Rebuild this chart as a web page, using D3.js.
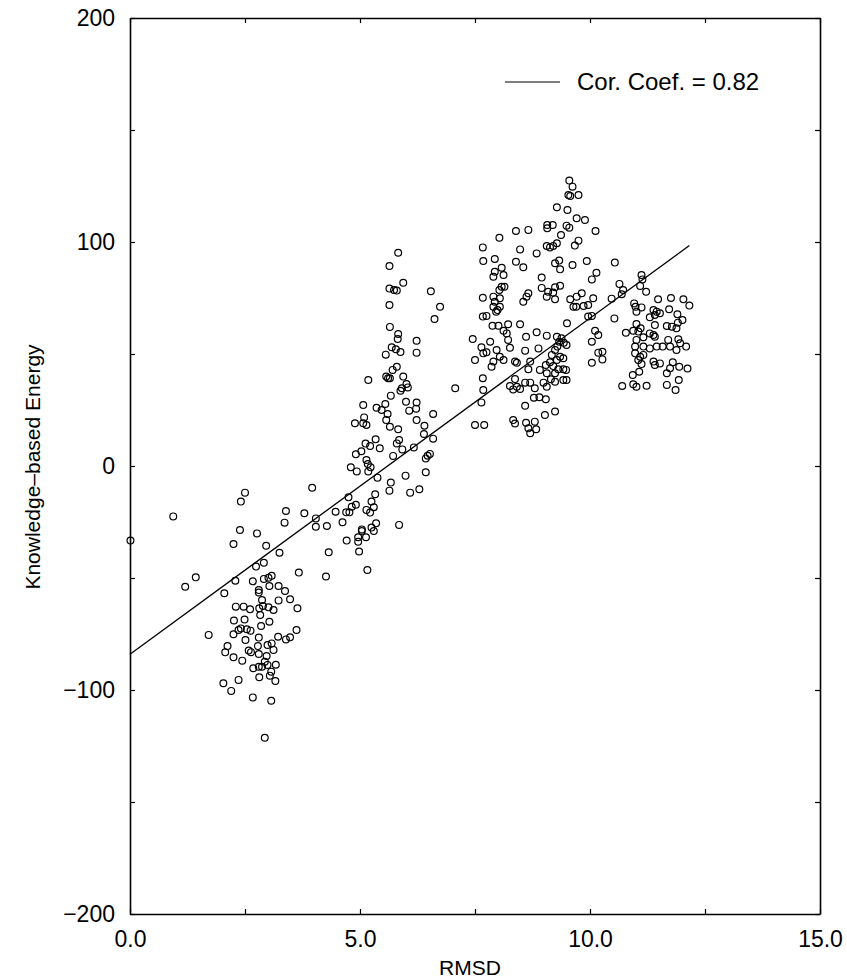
<!DOCTYPE html>
<html>
<head>
<meta charset="utf-8">
<script src="https://cdn.jsdelivr.net/npm/d3@7"></script>
<style>
  body { margin: 0; background: #fff; }
  text { font-family: "Liberation Sans", Arial, Helvetica, sans-serif; fill: #000; }
</style>
</head>
<body>
<svg id="chart" width="847" height="979"></svg>
<script>
// RMSD vs knowledge-based energy
const lowCluster = [
  [0.01,-33.3],[0.94,-22.5],[2.50,-11.9],
  [2.41,-15.9],[3.39,-20.1],[3.36,-25.3],[2.39,-28.6],[2.76,-30.1],[2.25,-34.8],[2.96,-35.6],[3.25,-38.7],
  [4.71,-33.3],[4.96,-31.8],[4.96,-33.8],[4.32,-38.5],[4.98,-38.2],[2.91,-43.2],[2.74,-44.9],[1.43,-49.7],
  [1.20,-53.9],[2.29,-51.2],[2.67,-51.5],[2.91,-50.4],[3.01,-49.9],[3.08,-49.0],[3.67,-47.6],[4.26,-49.3],
  [3.03,-53.6],[3.23,-53.6],[2.80,-55.4],[2.80,-56.5],[3.37,-55.8],[2.05,-56.8],[3.48,-59.5],[2.87,-59.8],
  [3.23,-60.0],[2.30,-62.8],[2.47,-62.8],[2.61,-64.0],[2.81,-63.5],[2.89,-62.5],[3.01,-63.1],[3.12,-64.3],
  [3.64,-63.5],[2.83,-66.5],[2.26,-69.0],[2.49,-68.5],[3.03,-69.5],[2.85,-71.4],[2.41,-72.5],[2.54,-72.9],
  [2.36,-73.2],[2.62,-73.5],[2.25,-75.1],[3.62,-73.2],[1.71,-75.4],[2.51,-77.7],[2.80,-76.6],[3.22,-76.2],
  [3.39,-77.4],[3.48,-76.5],[2.12,-80.4],[2.78,-80.4],[2.99,-79.9],[3.08,-79.2],[2.07,-83.2],[2.58,-82.4],
  [2.63,-83.1],[3.12,-82.1],[2.25,-85.4],[2.80,-83.9],[2.97,-84.8],[2.44,-86.9],[2.93,-87.4],[2.68,-90.3],
  [2.80,-89.6],[2.87,-89.6],[2.99,-88.8],[3.17,-88.7],[3.07,-91.8],[2.81,-94.3],[3.04,-93.6],[2.03,-97.0],
  [2.36,-95.5],[3.16,-96.0],[2.20,-100.4],[2.67,-103.3],[3.07,-104.8],[2.93,-121.3]
];

const midCluster = [
  [5.83,95.2],[5.64,89.3],[5.94,81.8],[5.64,79.2],[5.74,78.6],[5.80,78.3],[6.54,78.0],[5.64,71.9],[6.74,71.1],
  [6.62,65.6],[5.65,62.1],[5.83,58.9],[5.82,56.7],[6.23,55.9],[6.23,50.6],[5.69,53.0],[5.78,52.1],[5.88,50.9],
  [5.56,49.7],[5.80,44.3],[5.71,42.9],[5.57,39.9],[5.61,39.2],[5.65,39.2],[5.18,38.4],[5.94,39.9],[6.01,36.6],
  [5.91,34.7],[6.04,35.1],[5.88,33.6],[5.67,31.4],[5.07,27.2],[5.36,26.0],[5.47,25.0],[5.55,27.7],[6.00,28.7],
  [6.23,28.3],[6.22,25.6],[6.07,24.7],[5.60,23.2],[5.09,21.7],[6.59,23.2],[5.57,20.5],[5.65,17.5],[4.89,19.1],
  [5.07,19.1],[5.14,18.3],[6.23,20.5],[6.40,18.0],[5.83,16.4],[6.39,14.3],[6.59,12.2],[5.34,11.9],[5.85,11.6],
  [5.80,10.1],[5.12,10.0],[5.22,8.9],[5.43,7.9],[5.03,6.6],[4.91,5.2],[5.72,4.5],[5.92,7.4],[6.17,8.3],
  [6.52,5.4],[6.47,4.6],[6.43,3.4],[5.14,2.7],[5.17,0.9],[5.23,-0.6],[4.80,-0.6],[4.93,-2.4],[5.18,-2.4],
  [5.38,-5.2],[6.43,-2.8],[5.99,-4.3],[3.96,-9.7],[5.67,-7.4],[5.64,-11.0],[5.33,-12.6],[6.09,-11.9],
  [6.29,-10.4],[4.75,-14.0],[5.25,-15.9],[4.91,-17.3],[4.82,-18.2],[4.70,-20.7],[4.77,-20.7],[4.47,-20.4],
  [5.14,-19.6],[5.30,-18.4],[5.22,-20.8],[3.79,-21.1],[4.04,-23.4],[4.62,-25.1],[5.85,-26.3],[5.35,-25.6],
  [4.04,-27.1],[4.28,-26.8],[5.04,-28.3],[5.25,-27.5],[5.30,-29.0],[5.04,-29.0],[5.13,-31.8],[5.16,-46.4]
];

const highCluster = [
  [9.55,127.4],[9.62,124.7],[9.53,121.0],[9.57,120.5],[9.75,121.0],[9.28,115.5],[9.51,114.3],[9.71,110.6],
  [9.89,109.8],[9.07,107.6],[9.19,107.6],[9.07,106.1],[9.49,107.3],[9.55,106.4],[8.39,104.9],[8.66,105.4],
  [10.12,104.9],[8.03,101.9],[9.37,103.1],[9.28,99.4],[9.20,98.2],[9.13,97.6],[9.06,98.2],[9.75,100.6],
  [9.67,98.4],[7.67,97.6],[8.48,96.7],[8.84,94.9],[7.68,91.5],[7.93,92.4],[8.39,91.2],[8.55,88.7],[9.24,90.5],
  [9.33,91.7],[9.35,87.8],[9.62,89.7],[9.93,91.5],[8.08,88.5],[7.93,86.7],[7.90,84.5],[8.12,85.3],[10.14,86.3],
  [10.04,83.3],[8.95,84.1],[8.08,80.0],[8.14,80.0],[8.03,78.6],[8.95,79.5],[9.09,77.8],[9.24,79.8],[9.35,80.5],
  [9.20,77.4],[9.06,75.6],[9.24,74.4],[7.90,75.6],[8.04,74.9],[7.93,73.3],[7.90,71.1],[7.99,69.6],[8.04,71.1],
  [7.96,68.9],[7.67,75.1],[8.66,77.1],[8.62,75.6],[8.55,73.3],[9.57,74.4],[9.71,75.6],[9.82,77.1],[9.70,71.1],
  [9.86,71.4],[9.96,71.9],[10.07,74.9],[9.64,71.1],[9.96,66.7],[10.04,67.0],[7.67,66.7],[7.75,67.0],[9.50,63.7],
  [8.48,63.3],[7.88,62.6],[8.01,62.6],[8.22,63.3],[8.12,60.4],[8.19,59.2],[8.84,59.7],[9.06,58.2],[8.61,57.7],
  [7.45,56.7],[7.83,55.5],[8.22,56.3],[8.26,52.8],[9.28,57.7],[9.38,57.0],[9.33,55.5],[9.43,55.0],[9.29,53.3],
  [9.49,54.0],[10.11,60.4],[10.18,58.5],[10.04,55.5],[7.64,53.0],[7.75,50.8],[7.68,50.3],[7.97,51.8],[8.04,48.8],
  [8.12,47.3],[7.90,46.6],[7.86,44.3],[8.59,51.5],[8.88,52.5],[8.37,46.6],[8.41,46.1],[8.70,46.6],[9.24,51.8],
  [9.17,49.6],[9.35,48.8],[9.42,48.1],[9.28,47.3],[9.13,46.3],[9.04,45.1],[9.20,44.6],[9.31,43.2],[9.42,43.2],
  [8.66,43.2],[9.48,42.9],[8.91,42.9],[9.06,41.4],[9.24,41.4],[9.15,38.7],[8.99,37.2],[9.06,35.4],[9.24,37.6],
  [9.42,38.4],[9.49,38.4],[7.50,47.3],[7.67,39.2],[8.37,38.8],[8.26,35.7],[8.59,37.2],[8.70,37.2],[8.33,34.2],
  [8.41,35.4],[8.48,34.4],[8.80,34.7],[7.68,33.9],[7.07,34.7],[7.64,28.4],[8.78,30.5],[8.90,30.7],[9.04,29.8],
  [8.59,26.9],[9.02,22.8],[9.24,24.3],[7.50,18.3],[7.70,18.3],[8.33,20.5],[8.37,19.0],[8.61,19.3],[8.66,16.8],
  [8.70,14.6],[8.80,19.8],[8.83,16.4],[10.04,46.1],[10.18,50.6]
];

const rightCluster = [
  [10.54,90.8],[11.12,85.3],[11.14,83.3],[10.64,81.3],[10.72,78.6],[10.69,76.7],[11.09,80.4],[11.22,77.8],
  [10.47,74.7],[11.48,74.4],[11.76,75.0],[12.03,74.4],[12.16,71.6],[10.96,72.6],[10.99,71.1],[11.12,70.8],
  [11.01,68.9],[11.38,69.6],[11.45,68.9],[11.52,68.2],[11.41,67.4],[11.30,66.4],[11.72,70.0],[11.90,67.7],
  [12.01,65.2],[11.91,64.0],[10.53,65.9],[11.41,62.9],[11.67,62.5],[11.78,62.2],[11.88,61.5],[11.01,63.4],
  [11.10,61.5],[10.94,60.4],[10.78,59.5],[11.05,60.0],[11.16,57.5],[11.30,59.2],[11.38,58.5],[11.41,57.7],
  [11.01,56.3],[11.70,56.3],[11.92,56.6],[10.98,53.3],[11.16,53.3],[11.30,52.5],[11.45,53.3],[11.58,53.3],
  [11.74,53.3],[11.88,51.8],[12.09,53.3],[11.96,54.8],[10.98,50.3],[11.09,48.8],[11.16,49.6],[11.05,47.3],
  [11.12,45.5],[11.38,46.6],[11.52,45.8],[11.41,45.1],[11.80,46.3],[11.94,44.3],[12.12,43.5],[11.67,41.4],
  [11.74,43.6],[11.07,42.1],[10.93,40.6],[11.93,38.4],[10.70,35.7],[10.94,36.5],[11.01,35.4],[11.23,35.8],
  [11.67,36.2],[11.86,33.9],[10.27,51.0],[10.27,47.6]
];

// fitted line end points
const fitRmsd = [0, 12.16];
const fitEnergy = [-84, 98.4];
const corLabel = "Cor. Coef. = 0.82";

const xTicks = [0, 2.5, 5, 7.5, 10, 12.5, 15];
const yTicks = [-200, -150, -100, -50, 0, 50, 100, 150, 200];

const points = [...lowCluster, ...midCluster, ...highCluster, ...rightCluster];

const svg = d3.select("#chart");
const box = { left: 130, right: 820, top: 18, bottom: 914 };

const x = d3.scaleLinear().domain([0, 15]).range([box.left, box.right]);
const y = d3.scaleLinear().domain([-200, 200]).range([box.bottom, box.top]);

const tickLen = 5;

// axes, ticks pointing in on all four sides
svg.append("g")
  .attr("transform", `translate(0,${box.bottom})`)
  .call(d3.axisBottom(x).tickValues(xTicks).tickSize(-tickLen).tickSizeOuter(0)
    .tickPadding(17)
    .tickFormat(d => d % 5 === 0 ? d3.format(".1f")(d) : ""));

svg.append("g")
  .attr("transform", `translate(0,${box.top})`)
  .call(d3.axisTop(x).tickValues(xTicks).tickSize(-tickLen).tickSizeOuter(0).tickFormat(""));

svg.append("g")
  .attr("transform", `translate(${box.left},0)`)
  .call(d3.axisLeft(y).tickValues(yTicks).tickSize(-tickLen).tickSizeOuter(0)
    .tickPadding(15)
    .tickFormat(d => d % 100 === 0 ? d3.format("d")(d) : ""));

svg.append("g")
  .attr("transform", `translate(${box.right},0)`)
  .call(d3.axisRight(y).tickValues(yTicks).tickSize(-tickLen).tickSizeOuter(0).tickFormat(""));

svg.selectAll(".domain").attr("stroke", "#000").attr("stroke-width", 1.6);
svg.selectAll(".tick line").attr("stroke", "#000").attr("stroke-width", 1.2);
svg.selectAll(".tick text").attr("font-size", 23).attr("fill", "#000");
svg.selectAll("g").attr("font-family", null);

// axis titles
svg.append("text")
  .attr("x", 470)
  .attr("y", 975)
  .attr("text-anchor", "middle")
  .attr("font-size", 21)
  .text("RMSD");

svg.append("text")
  .attr("transform", "translate(40,467) rotate(-90)")
  .attr("text-anchor", "middle")
  .attr("font-size", 21)
  .text("Knowledge\u2013based Energy");

// points
svg.append("g")
  .selectAll("circle")
  .data(points)
  .join("circle")
  .attr("cx", d => x(d[0]))
  .attr("cy", d => y(d[1]))
  .attr("r", 3.4)
  .attr("fill", "none")
  .attr("stroke", "#000")
  .attr("stroke-width", 1.2);

// regression line
const fit = fitRmsd.map((r, i) => [r, fitEnergy[i]]);
svg.append("path")
  .datum(fit)
  .attr("fill", "none")
  .attr("stroke", "#000")
  .attr("stroke-width", 1.3)
  .attr("d", d3.line().x(d => x(d[0])).y(d => y(d[1])));

// legend
const legend = svg.append("g").attr("transform", "translate(505,82)");
legend.append("line")
  .attr("x1", 0).attr("x2", 55)
  .attr("stroke", "#000").attr("stroke-width", 1.2);
legend.append("text")
  .attr("x", 72)
  .attr("y", 8)
  .attr("font-size", 24)
  .text(corLabel);
</script>
</body>
</html>
